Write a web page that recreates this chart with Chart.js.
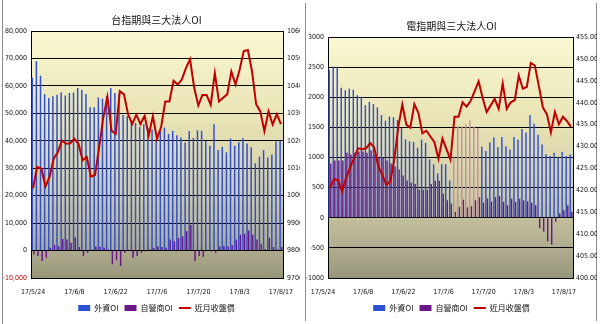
<!DOCTYPE html>
<html>
<head>
<meta charset="utf-8">
<script src="https://cdn.jsdelivr.net/npm/chart.js@4.4.0/dist/chart.umd.min.js"></script>
<style>
  html, body { margin: 0; padding: 0; background: #fff; }
  #wrap { position: relative; width: 600px; height: 324px; overflow: hidden; }
  #left { position: absolute; left: 0; top: 0; width: 300px; height: 324px; overflow: hidden; }
  #right { position: absolute; left: 300px; top: 0; width: 300px; height: 324px; }
  .frameL { position: absolute; left: 2px; top: 0; width: 1px; height: 324px; background: #8c8c8c; }
  .frameR { position: absolute; left: 5px; top: 3px; width: 290px; height: 318px;
            border-left: 1px solid #8c8c8c; border-right: 1px solid #8c8c8c; }
  canvas { position: absolute; left: 0; top: 0; }
</style>
</head>
<body>
<div id="wrap">
  <div id="left"><div class="frameL"></div><canvas id="taiChart" width="310" height="324"></canvas></div>
  <div id="right"><div class="frameR"></div><canvas id="elecChart" width="300" height="324"></canvas></div>
</div>
<script>
// trading days 17/5/24 .. 17/8/17
const tradeDates = [
  '17/5/24','17/5/25','17/5/26','17/5/31',
  '17/6/1','17/6/2','17/6/3','17/6/5','17/6/6','17/6/7','17/6/8','17/6/9','17/6/12','17/6/13','17/6/14','17/6/15',
  '17/6/16','17/6/19','17/6/20','17/6/21','17/6/22','17/6/23','17/6/26','17/6/27','17/6/28','17/6/29','17/6/30',
  '17/7/3','17/7/4','17/7/5','17/7/6','17/7/7','17/7/10','17/7/11','17/7/12','17/7/13','17/7/14','17/7/17',
  '17/7/18','17/7/19','17/7/20','17/7/21','17/7/24','17/7/25','17/7/26','17/7/27','17/7/28','17/7/31',
  '17/8/1','17/8/2','17/8/3','17/8/4','17/8/7','17/8/8','17/8/9','17/8/10','17/8/11','17/8/14','17/8/15','17/8/16','17/8/17'
];

// 台指期
const taiForeignOI = [
  63000, 69000, 63700, 57000, 55600, 56200, 56800, 57600, 56500, 57400,
  57600, 59200, 58600, 57000, 52200, 52200, 55800, 55300, 56200, 59200,
  57400, 57100, 49500, 49000, 47500, 46500, 45000, 46000, 44500, 44000,
  40600, 43500, 44800, 42500, 43600, 42000, 41200, 39400, 43600, 41000,
  43800, 43600, 40000, 38200, 46000, 36600, 37800, 35800, 40800, 38200,
  39500, 40900, 39000, 37600, 31800, 34200, 36600, 33900, 35000, 39800, 40000
];
const taiDealerOI = [
  -1400, -2000, -3800, -2600, 1000, 2100, 1600, 4200, 4000, 2800,
  4800, 1300, -2000, -800, 300, 1500, 1300, 1000, 400, -5000,
  -3500, -5600, -800, 300, -2600, -2000, -800, -300, 400, 900,
  1500, 1300, 1000, 4000, 3400, 4600, 5200, 7000, 9400, -3800,
  -2000, -2300, 200, -300, -800, 1500, 1700, 1500, 2000, 4000,
  5800, 6100, 7300, 5800, 4000, 2500, 600, 4600, 1300, 400, 1300
];
const taiClose = [
  10027, 10105, 10099, 10033, 10069, 10135, 10159, 10201, 10189, 10191,
  10207, 10189, 10129, 10141, 10069, 10075, 10177, 10285, 10360, 10237,
  10225, 10381, 10369, 10297, 10261, 10295, 10261, 10291, 10219, 10290,
  10207, 10250, 10343, 10343, 10419, 10405, 10423, 10465, 10497, 10393,
  10329, 10367, 10367, 10331, 10447, 10343, 10357, 10369, 10453, 10405,
  10459, 10527, 10531, 10453, 10333, 10307, 10235, 10307, 10259, 10297, 10261
];

// 電指期
const elecForeignOI = [
  2452, 2507, 2507, 2158, 2115, 2142, 2125, 2033, 2006, 1869,
  1924, 1886, 1831, 1706, 1613, 1679, 1668, 1624, 1490, 1300,
  1270, 1259, 1161, 1297, 1243, 970, 888, 736, 888, 888,
  620, 1000, 1515, 1520, 1553, 1613, 1515, 1488, 1177, 1106,
  1253, 1335, 1172, 1340, 1188, 1134, 1340, 1297, 1471, 1417,
  1706, 1559, 1379, 1215, 1052, 1025, 1079, 998, 1090, 1025, 1050
];
const elecDealerOI = [
  900, 950, 950, 950, 1080, 1050, 1080, 1100, 1100, 1080,
  1120, 1050, 1000, 1000, 950, 900, 850, 800, 700, 620,
  580, 561, 463, 463, 463, 561, 616, 616, 398, 289,
  234, 98, 180, 300, 169, 191, 289, 343, 250, 320,
  270, 343, 360, 262, 207, 315, 262, 315, 289, 272,
  250, 207, -175, -230, -390, -447, -65, 70, 125, 207, 100
];
const elecClose = [
  420.5, 422.6, 422.3, 419.8, 422.8, 425.2, 427.4, 429.6, 429.4, 429.6,
  430.8, 429.8, 425.5, 423.6, 421.3, 422.0, 427.0, 434.5, 439.6, 435.0,
  434.3, 439.7, 437.7, 433.0, 433.6, 432.3, 431.0, 427.2, 431.8, 429.4,
  427.0, 436.8, 436.8, 440.1, 439.1, 440.4, 442.6, 444.9, 441.1, 437.9,
  439.4, 440.9, 438.6, 444.4, 438.6, 440.1, 440.6, 446.2, 443.2, 443.6,
  449.1, 448.5, 443.8, 438.9, 437.4, 433.2, 437.9, 435.1, 436.8, 435.8, 434.5
];

const seriesNames = ['外資OI', '自營商OI', '近月收盤價'];

const axisFont = { family: "'DejaVu Sans Condensed', 'Liberation Sans', sans-serif", size: 7 };
const cjkFamily = "'Noto Sans CJK TC', 'Noto Sans CJK SC', sans-serif";
const BLUE = '#2f50d2';
const PURPLE = '#6a1888';
const RED = '#c00000';

// yellow -> khaki plot background like the excel fill
const plotFill = {
  id: 'plotFill',
  beforeDraw(chart) {
    const { ctx, chartArea: a } = chart;
    const g = ctx.createLinearGradient(0, a.top, 0, a.bottom);
    g.addColorStop(0, '#faf8d2');
    g.addColorStop(0.35, '#e9e4b6');
    g.addColorStop(0.65, '#d0cca6');
    g.addColorStop(0.85, '#b4b193');
    g.addColorStop(1, '#99977b');
    ctx.save();
    ctx.fillStyle = g;
    ctx.fillRect(a.left, a.top, a.width, a.height);
    ctx.restore();
  }
};

function buildChart(canvasId, o) {
  return new Chart(document.getElementById(canvasId), {
    data: {
      labels: tradeDates,
      datasets: [
        { type: 'bar', label: seriesNames[0], data: o.foreign, backgroundColor: o.foreignColor,
          yAxisID: 'y', order: 1, categoryPercentage: 0.8, barPercentage: 0.9 },
        { type: 'bar', label: seriesNames[1], data: o.dealer, backgroundColor: PURPLE,
          yAxisID: 'y', order: 2, categoryPercentage: 0.8, barPercentage: 0.9 },
        { type: 'line', label: seriesNames[2], data: o.close, borderColor: RED, backgroundColor: RED,
          borderWidth: 2, pointRadius: 0, tension: 0, yAxisID: 'y1', order: 0 }
      ]
    },
    options: {
      responsive: false,
      animation: false,
      layout: { padding: o.padding },
      plugins: {
        title: {
          display: true, text: o.title, color: '#111',
          font: { family: cjkFamily, size: 10, weight: 'normal' },
          padding: o.titlePad
        },
        legend: {
          position: 'bottom',
          labels: {
            usePointStyle: true, pointStyleWidth: 12, boxHeight: 6, padding: 6,
            color: '#111', font: { family: cjkFamily, size: 8 },
            sort: (a, b) => a.datasetIndex - b.datasetIndex,
            generateLabels(chart) {
              const items = Chart.defaults.plugins.legend.labels.generateLabels(chart);
              items.forEach(it => {
                it.pointStyle = chart.data.datasets[it.datasetIndex].type === 'line' ? 'line' : 'rect';
              });
              return items;
            }
          }
        },
        tooltip: { enabled: false }
      },
      scales: {
        x: {
          grid: { display: false, drawTicks: false },
          border: { display: true, color: '#000' },
          ticks: {
            autoSkip: false, maxRotation: 0, minRotation: 0, padding: 10,
            labelOffset: o.labelOffset, font: axisFont, color: '#111',
            callback(v, i) { return i % 10 === 0 ? this.getLabelForValue(v) : ''; }
          },
          afterFit(s) { s.height = 20; }
        },
        y: {
          position: 'left', min: o.yMin, max: o.yMax,
          grid: { color: '#000', lineWidth: 1, drawTicks: false },
          border: { display: true, color: '#000' },
          ticks: {
            stepSize: o.yStep, padding: 4, font: axisFont,
            color: o.yTickColor, callback: o.yFormat
          },
          afterFit(s) { s.width = o.yWidth; }
        },
        y1: {
          position: 'right', min: o.y1Min, max: o.y1Max,
          grid: { drawOnChartArea: false, drawTicks: false },
          border: { display: true, color: '#000' },
          ticks: { stepSize: o.y1Step, padding: o.y1Pad, font: axisFont, color: '#111', callback: o.y1Format },
          afterFit(s) { s.width = o.y1Width; }
        }
      }
    },
    plugins: [plotFill]
  });
}

buildChart('taiChart', {
  title: '台指期與三大法人OI',
  foreign: taiForeignOI, dealer: taiDealerOI, close: taiClose,
  foreignColor: BLUE,
  padding: { left: 3, right: 0, top: 0, bottom: 2 },
  titlePad: { top: 14, bottom: 5 },
  labelOffset: 0,
  yMin: -10000, yMax: 80000, yStep: 10000, yWidth: 28,
  yFormat: v => v.toLocaleString('en-US'),
  yTickColor: ctx => (ctx.tick && ctx.tick.value < 0) ? '#b00000' : '#111',
  y1Min: 9700, y1Max: 10600, y1Step: 100, y1Width: 27, y1Pad: 4,
  y1Format: v => String(v)
});

// a few foreign-OI bars are shaded pink in the source picture
const tintFrom = 31, tintTo = 37;
buildChart('elecChart', {
  title: '電指期與三大法人OI',
  foreign: elecForeignOI, dealer: elecDealerOI, close: elecClose,
  foreignColor: ctx => (ctx.dataIndex >= tintFrom && ctx.dataIndex <= tintTo) ? '#c4909c' : BLUE,
  padding: { left: 6, right: 3, top: 0, bottom: 2 },
  titlePad: { top: 20, bottom: 5 },
  labelOffset: -7,
  yMin: -1000, yMax: 3000, yStep: 500, yWidth: 22,
  yFormat: v => String(v),
  yTickColor: '#111',
  y1Min: 400, y1Max: 455, y1Step: 5, y1Width: 24, y1Pad: 3,
  y1Format: v => v.toFixed(2)
});
</script>
</body>
</html>
